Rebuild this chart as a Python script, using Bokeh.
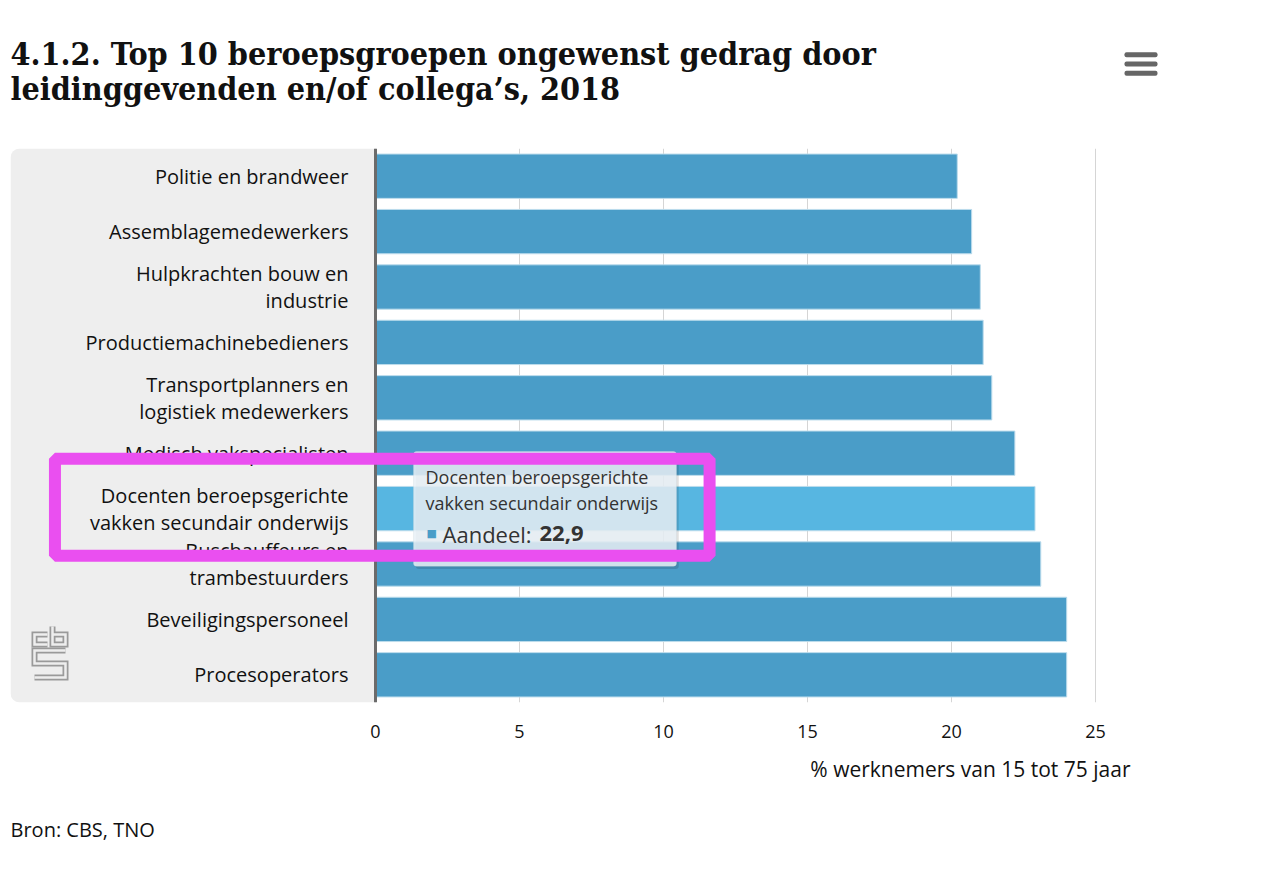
from bokeh.plotting import figure
from bokeh.models import (Range1d, FixedTicker, Span, BoxAnnotation, Label,
                          ColumnDataSource)
from bokeh.layouts import column
from bokeh.core.properties import value
from bokeh.embed import file_html
from bokeh.resources import INLINE

# ---------------- data ----------------
categories = [
    "Politie en brandweer",
    "Assemblagemedewerkers",
    "Hulpkrachten bouw en\nindustrie",
    "Productiemachinebedieners",
    "Transportplanners en\nlogistiek medewerkers",
    "Medisch vakspecialisten",
    "Docenten beroepsgerichte\nvakken secundair onderwijs",
    "Buschauffeurs en\ntrambestuurders",
    "Beveiligingspersoneel",
    "Procesoperators",
]
aandeel = [20.2, 20.7, 21.0, 21.1, 21.4, 22.2, 22.9, 23.1, 24.0, 24.0]
x_ticks = [0, 5, 10, 15, 20, 25]
highlight = "Docenten beroepsgerichte\nvakken secundair onderwijs"

title_lines = ["4.1.2. Top 10 beroepsgroepen ongewenst gedrag door",
               "leidinggevenden en/of collega\u2019s, 2018"]
x_label = "% werknemers van 15 tot 75 jaar"
source_text = "Bron: CBS, TNO"
series_name = "Aandeel"

# ---------------- styling ----------------
FONT = "Open Sans"
TITLE_FONT = "DejaVu Serif Condensed"
BAR = "#4a9dc8"
BAR_HI = "#57b6e1"
TXT = "#111111"
W = 1270
LEFT, RIGHT = 10, 8          # shared frame borders (px)
X0_PX, PX_PER_UNIT = 375, 28.8
FRAME_TOP, FRAME_H = 148, 554


def bare(fig):
    fig.outline_line_color = None
    fig.background_fill_color = "white"
    fig.border_fill_color = "white"
    fig.xgrid.visible = False
    fig.ygrid.visible = False
    return fig


# ---------------- header ----------------
top = bare(figure(width=W, height=148, output_backend="svg",
                  toolbar_location=None, x_range=Range1d(LEFT, W - RIGHT),
                  y_range=Range1d(148, 0), x_axis_location=None,
                  y_axis_location=None, min_border_left=LEFT,
                  min_border_right=RIGHT, min_border_top=0,
                  min_border_bottom=0))
top.text(x=[10, 10], y=[53, 88], text=title_lines,
         text_font=value(TITLE_FONT), text_font_style="bold",
         text_font_size="32px", text_color=TXT, text_baseline="alphabetic")
for yy in (51.7, 61.0, 70.3):
    top.add_layout(BoxAnnotation(left=1124, right=1157, top=yy, bottom=yy + 5,
                                 fill_color="#666666", fill_alpha=1,
                                 line_color=None, border_radius=2))

# ---------------- main chart ----------------
n = len(categories)
ys = [n - i - 0.5 for i in range(n)]
colors = [BAR_HI if c == highlight else BAR for c in categories]
src = ColumnDataSource(dict(y=ys, v=aandeel, cat=categories, color=colors,
                            zero=[0] * n))

frame_w = W - LEFT - RIGHT
x_start = -(X0_PX - LEFT) / PX_PER_UNIT
x_end = x_start + frame_w / PX_PER_UNIT
p = bare(figure(width=W, height=604, output_backend="svg",
                toolbar_location=None,
                x_range=Range1d(x_start, x_end), y_range=Range1d(0, n),
                y_axis_location=None, min_border_left=LEFT,
                min_border_right=RIGHT, min_border_top=0,
                min_border_bottom=50))

# left grey label panel
p.add_layout(BoxAnnotation(left=None, right=0, bottom=None, top=None,
                           fill_color="#eeeeee", fill_alpha=1, line_color=None,
                           border_radius=(9, 0, 0, 9), level="underlay"))

# axis & grid
p.xaxis.ticker = FixedTicker(ticks=x_ticks)
p.xaxis.axis_line_color = None
p.xaxis.major_tick_line_color = None
p.xaxis.minor_tick_line_color = None
p.xaxis.major_label_standoff = 16
p.xaxis.major_label_text_font = FONT
p.xaxis.major_label_text_font_size = "18px"
p.xaxis.major_label_text_color = TXT
p.xgrid.visible = True
p.xgrid.ticker = FixedTicker(ticks=x_ticks)
p.xgrid.grid_line_color = "#d5d5d5"
p.xgrid.grid_line_width = 1

# bars
p.hbar(y="y", left="zero", right="v", height=0.8, source=src,
       fill_color="color", line_color="#bcdcec", line_width=1)

# zero line
p.add_layout(Span(location=0, dimension="height", line_color="#6b6b6b",
                  line_width=3))

# category labels
p.text(x="zero", y="y", text="cat", source=src, x_offset=-27,
       text_align="right", text_baseline="middle",
       text_font=value(FONT), text_font_size="20px", text_line_height=1.0,
       text_color=TXT)

# CBS logo (decoration, drawn in pixel space of the label panel)
def px2data(xs, ys_):
    return ([(x - X0_PX) / PX_PER_UNIT for x in xs],
            [n - (y - FRAME_TOP) * n / FRAME_H for y in ys_])

logo_paths = [
    ([47, 34, 34, 47], [634, 634, 644, 644]),
    ([52, 52, 65, 65, 52], [626, 644, 644, 634, 634]),
    ([65, 34, 34, 65, 65, 34], [650, 650, 663, 663, 677, 677]),
]
lx, ly = zip(*[px2data(a, b) for a, b in logo_paths])
p.multi_line(xs=list(lx), ys=list(ly), line_color="#9a9a9a", line_width=6,
             line_join="miter")
p.multi_line(xs=list(lx), ys=list(ly), line_color="#eeeeee", line_width=2.5,
             line_join="miter")

# ---------------- tooltip ----------------
hi = categories.index(highlight)
yc = ys[hi]
val = aandeel[hi]
t_left, t_right = 1.32, 10.45
t_top, t_bottom = yc + 1.03, yc - 1.04
p.add_layout(BoxAnnotation(left=t_left + 0.08, right=t_right + 0.08,
                           top=t_top - 0.05, bottom=t_bottom - 0.05,
                           fill_color="#000000", fill_alpha=0.12,
                           line_color=None, border_radius=3))
p.add_layout(BoxAnnotation(left=t_left, right=t_right, top=t_top,
                           bottom=t_bottom, fill_color="#e8f0f6",
                           fill_alpha=0.86, line_color="#c9d3db",
                           line_width=1, border_radius=3))
for k, line in enumerate(highlight.split("\n")):
    p.add_layout(Label(x=t_left, y=t_top, x_offset=12, y_offset=-25 - 26 * k,
                       text=line, text_font=FONT, text_font_size="18px",
                       text_color="#333333", text_baseline="alphabetic"))
p.add_layout(Label(x=t_left, y=t_top, x_offset=13, y_offset=-82,
                   text="\u25a0", text_font="DejaVu Sans",
                   text_font_size="11px", text_color=BAR,
                   text_baseline="alphabetic"))
p.add_layout(Label(x=t_left, y=t_top, x_offset=29, y_offset=-82,
                   text=series_name + ":", text_font=FONT,
                   text_font_size="22px", text_color="#333333",
                   text_baseline="alphabetic"))
p.add_layout(Label(x=t_left, y=t_top, x_offset=126, y_offset=-82,
                   text=f"{val:.1f}".replace(".", ","), text_font=FONT,
                   text_font_size="22px", text_font_style="bold",
                   text_color="#333333", text_baseline="alphabetic"))

# magenta highlight frame (annotation overlay)
p.add_layout(BoxAnnotation(left=-11.13, right=11.6, top=yc + 0.9,
                           bottom=yc - 0.85, fill_color=None, fill_alpha=0,
                           line_color="#ea4ff0", line_alpha=1, line_width=12))

# ---------------- footer ----------------
bot = bare(figure(width=W, height=128, output_backend="svg",
                  toolbar_location=None, x_range=Range1d(LEFT, W - RIGHT),
                  y_range=Range1d(128, 0), x_axis_location=None,
                  y_axis_location=None, min_border_left=LEFT,
                  min_border_right=RIGHT, min_border_top=0,
                  min_border_bottom=0))
bot.text(x=[1130], y=[16], text=[x_label], text_font=value(FONT),
         text_font_size="21px", text_color=TXT, text_align="right",
         text_baseline="middle")
bot.text(x=[10], y=[77], text=[source_text], text_font=value(FONT),
         text_font_size="20px", text_color=TXT, text_baseline="middle")

layout = column(top, p, bot, spacing=0)
open("out.html", "w").write(file_html(layout, INLINE))
